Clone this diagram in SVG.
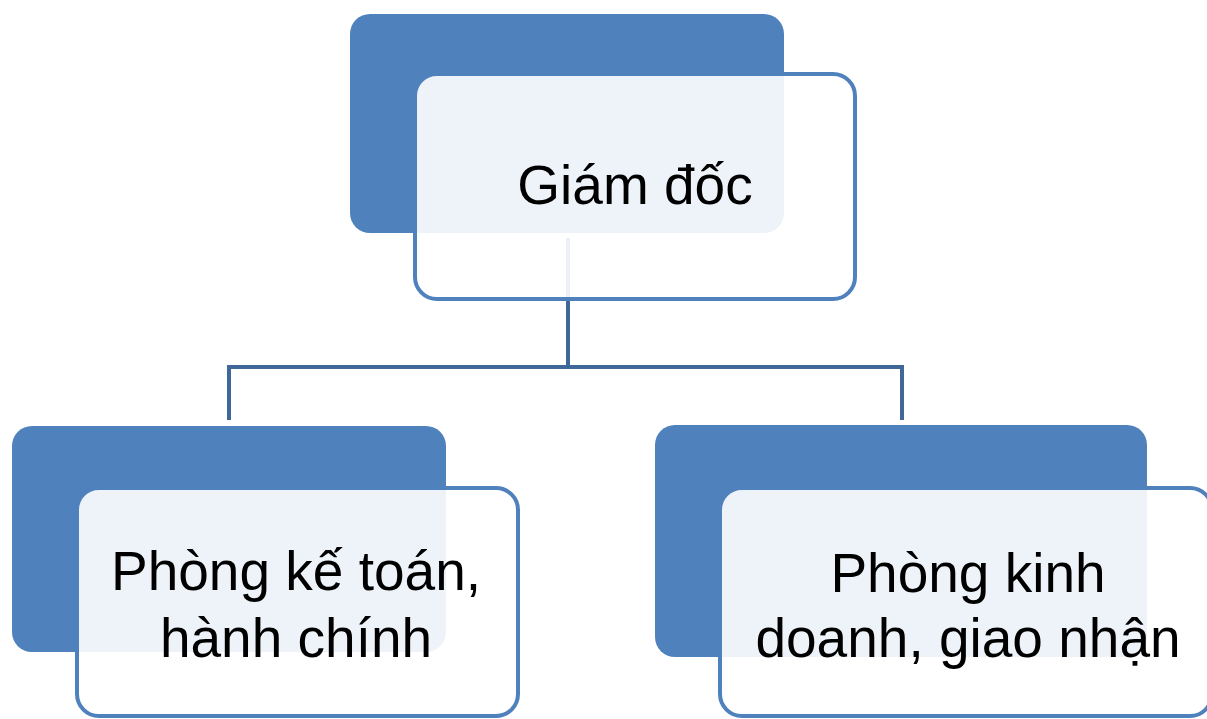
<svg xmlns="http://www.w3.org/2000/svg" width="1207" height="719" viewBox="0 0 1207 719">
<style>
.back{fill:#4F81BD;}
.front{fill:#FFFFFF;fill-opacity:0.9;stroke:#4F81BD;stroke-width:4;}
.lbl{font-family:"Liberation Sans",Arial,sans-serif;font-size:55px;fill:#000000;text-anchor:middle;}
.conn{fill:none;stroke:#3F6797;stroke-width:4;stroke-linejoin:miter;}
</style>
<rect x="0" y="0" width="1207" height="719" fill="#FFFFFF"/>
<g id="connectors">
<path class="conn" d="M568,238 V367"/>
<path class="conn" d="M229,420 V367 H902 V420"/>
</g>
<g id="node-giam-doc">
<rect class="back" x="350" y="14" width="434" height="219" rx="20"/>
<rect class="front" x="415" y="74" width="440" height="225" rx="22"/>
<text class="lbl" x="635" y="204">Giám đốc</text>
</g>
<g id="node-ke-toan">
<rect class="back" x="12" y="426" width="434" height="226" rx="20"/>
<rect class="front" x="77" y="488" width="441" height="228" rx="22"/>
<text class="lbl" x="296" y="590">Phòng kế toán,</text>
<text class="lbl" x="296" y="657">hành chính</text>
</g>
<g id="node-kinh-doanh">
<rect class="back" x="655" y="425" width="492" height="232" rx="20"/>
<rect class="front" x="720" y="488" width="492" height="228" rx="22"/>
<text class="lbl" x="968" y="592">Phòng kinh</text>
<text class="lbl" x="968" y="657">doanh, giao nhận</text>
</g>
</svg>
